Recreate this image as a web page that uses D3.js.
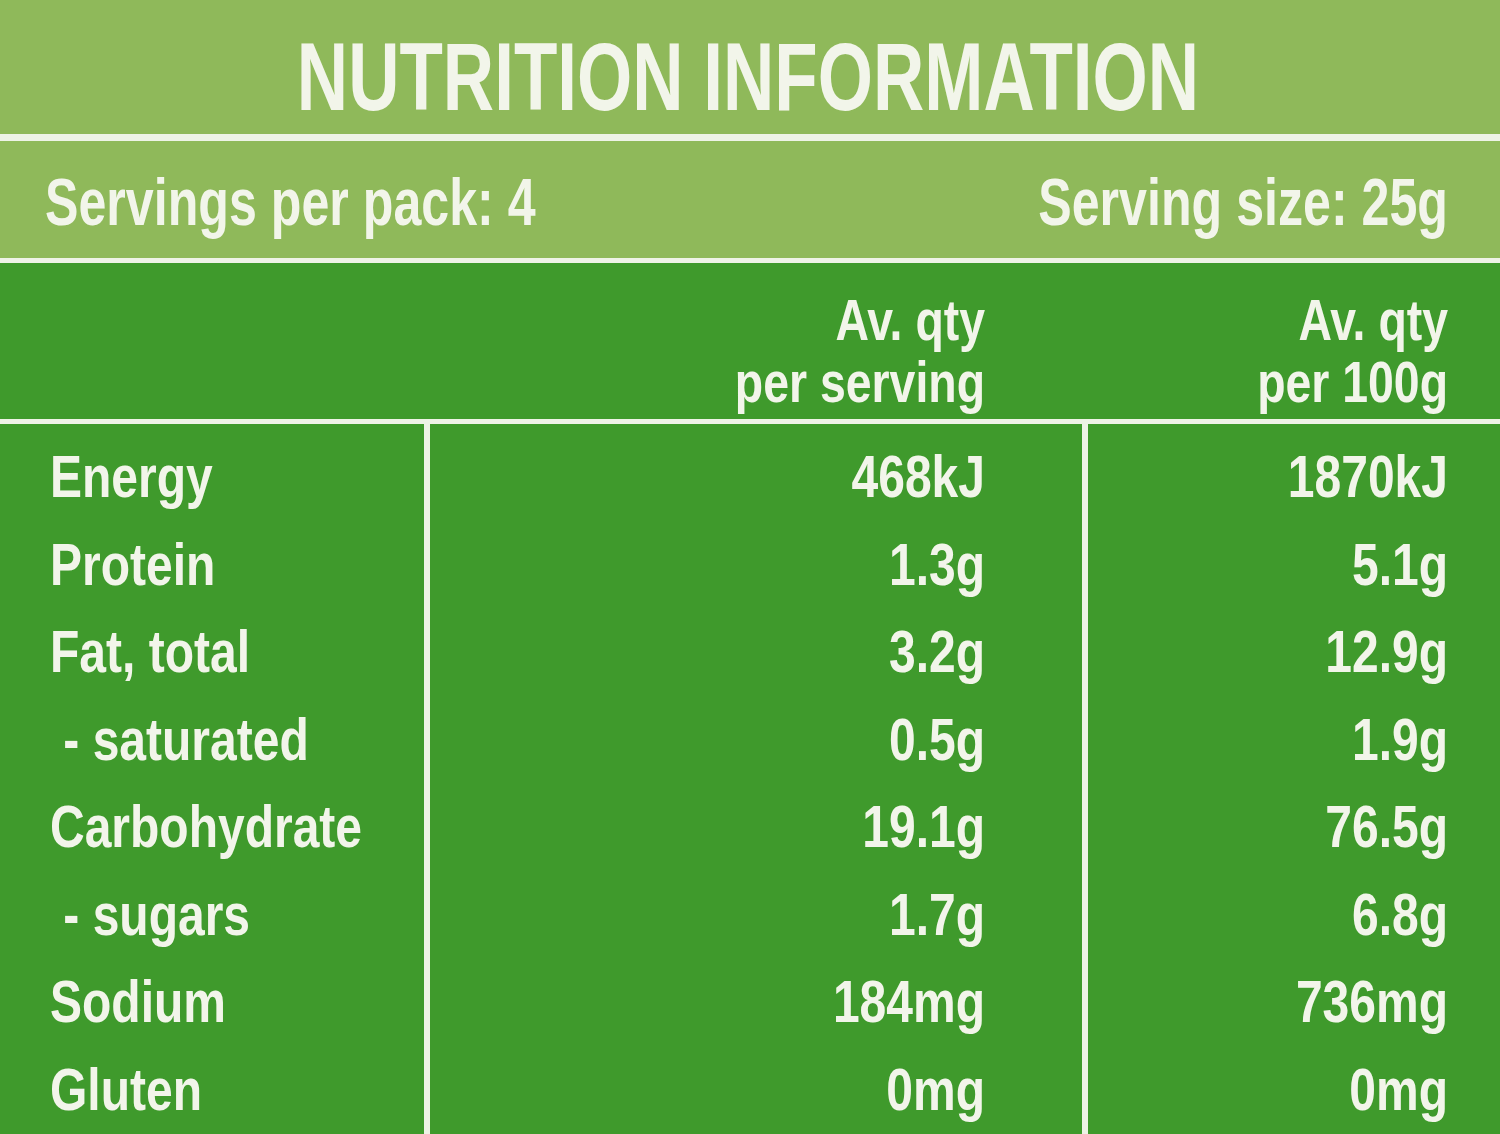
<!DOCTYPE html>
<html><head><meta charset="utf-8">
<script src="https://cdn.jsdelivr.net/npm/d3@7.9.0/dist/d3.min.js"></script>
<style>body{margin:0;background:#fff}svg{display:block}text{font-family:"Liberation Sans","Arial",sans-serif;font-weight:bold;fill:#f2f5ea}</style>
</head><body><svg id="c" width="1500" height="1134"></svg>
<script>
const nutrients = ['Energy', 'Protein', 'Fat, total', ' - saturated', 'Carbohydrate', ' - sugars', 'Sodium', 'Gluten'];
const perServing = ['468kJ', '1.3g', '3.2g', '0.5g', '19.1g', '1.7g', '184mg', '0mg'];
const per100g = ['1870kJ', '5.1g', '12.9g', '1.9g', '76.5g', '6.8g', '736mg', '0mg'];
const headServing = ['Av. qty', 'per serving'];
const head100 = ['Av. qty', 'per 100g'];

const svg = d3.select('#c');
const light = '#8fb95a', dark = '#3f9a2c', line = '#eef3e6';

svg.append('rect').attr('width', 1500).attr('height', 1134).attr('fill', line);
svg.append('rect').attr('width', 1500).attr('height', 134).attr('fill', light);
svg.append('rect').attr('y', 141).attr('width', 1500).attr('height', 117).attr('fill', light);
svg.append('rect').attr('y', 263).attr('width', 1500).attr('height', 156).attr('fill', dark);
svg.append('rect').attr('y', 424).attr('width', 1500).attr('height', 710).attr('fill', dark);
[427, 1085].forEach(x => svg.append('rect').attr('x', x - 3).attr('y', 420).attr('width', 6).attr('height', 714).attr('fill', line));

// condensed text helper
function label(x, y, t, size, anchor, sx) {
  svg.append('text').attr('transform', `translate(${x},${y}) scale(${sx || 0.8},1)`)
    .attr('font-size', size).attr('text-anchor', anchor || 'start')
    .attr('xml:space', 'preserve').text(t);
}

label(748, 110, 'NUTRITION INFORMATION', 96, 'middle', 0.74);
label(45, 225, 'Servings per pack: 4', 66, 'start', 0.76);
label(1448, 225, 'Serving size: 25g', 66, 'end', 0.76);

const hy = d3.scalePoint().domain([0, 1]).range([340, 402]);
headServing.forEach((t, i) => label(985, hy(i), t, 58, 'end', 0.8));
head100.forEach((t, i) => label(1448, hy(i), t, 58, 'end', 0.8));

const y = d3.scalePoint().domain(nutrients).range([497, 1110]);
nutrients.forEach((n, i) => {
  label(50, y(n), n, 60, 'start', 0.8);
  label(985, y(n), perServing[i], 60, 'end', 0.8);
  label(1448, y(n), per100g[i], 60, 'end', 0.8);
});
</script></body></html>
